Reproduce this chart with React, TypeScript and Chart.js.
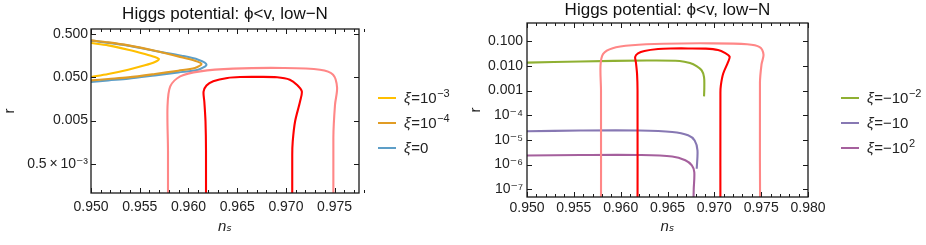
import React, { useEffect, useRef } from 'react';
import { Chart, registerables } from 'chart.js';

Chart.register(...registerables);

const FONT = "'Liberation Sans', Arial, 'DejaVu Sans', sans-serif";
const TITLE = 'Higgs potential: \u03d5<v, low\u2212N';

// Planck contours (n_s, r): inner (dark red) and outer (light red)
const innerX = [0.9618, 0.9618, 0.96175, 0.96163, 0.96155, 0.96185, 0.96254, 0.964, 0.9653, 0.9672, 0.9691, 0.9704, 0.97112, 0.97163, 0.97145, 0.97094, 0.9707, 0.97065, 0.97065];
const innerY = [1e-9, 1e-3, 4.7e-3, 0.0135, 0.023, 0.032, 0.04, 0.0478, 0.0502, 0.0505, 0.0495, 0.0436, 0.0334, 0.0235, 0.0137, 0.00475, 0.00165, 8e-4, 1e-9];
const outerX = [0.9579, 0.9579, 0.95785, 0.95813, 0.95915, 0.9612, 0.96459, 0.96971, 0.9735, 0.97484, 0.97525, 0.97504, 0.97487, 0.9749];
const outerY = [1e-9, 1e-3, 0.0104, 0.0305, 0.0519, 0.0676, 0.0781, 0.081, 0.074, 0.0568, 0.0285, 0.01156, 2.0e-3, 1e-9];

// left panel: xi = 1e-3, 1e-4, 0
const xiP3X = [0.95, 0.95177, 0.95382, 0.95553, 0.95656, 0.95697, 0.95656, 0.95553, 0.95382, 0.95177, 0.95];
const xiP3Y = [0.305, 0.269, 0.214, 0.17, 0.145, 0.1306, 0.1114, 0.0931, 0.0741, 0.0589, 0.0502];
const xiP4X = [0.95, 0.95177, 0.95382, 0.95656, 0.95895, 0.96066, 0.96134, 0.96066, 0.95895, 0.95656, 0.95382, 0.95177, 0.95];
const xiP4Y = [0.351, 0.315, 0.269, 0.203, 0.15, 0.1194, 0.1002, 0.081, 0.0702, 0.0589, 0.0492, 0.0452, 0.042];
const xi0X = [0.95, 0.95382, 0.95656, 0.95929, 0.961, 0.96185, 0.961, 0.95895, 0.95656, 0.95382, 0.95177, 0.95];
const xi0Y = [0.345, 0.265, 0.2, 0.1556, 0.126, 0.0966, 0.0741, 0.0641, 0.0547, 0.0459, 0.042, 0.0385];

// right panel: xi = -1e-2, -10, -1e2
const xiM2X = [0.95, 0.9557, 0.9628, 0.9663, 0.9674, 0.9681, 0.96865, 0.9689, 0.96893, 0.9689];
const xiM2Y = [0.0134, 0.015, 0.0163, 0.0157, 0.0129, 0.0097, 0.0065, 0.0035, 0.00137, 0.00058];
const xiM10X = [0.95, 0.9557, 0.962, 0.9655, 0.9672, 0.9679, 0.9682, 0.96812];
const xiM10Y = [2.25e-5, 2.4e-5, 2.4e-5, 2.1e-5, 1.55e-5, 9.5e-6, 3.8e-6, 6.8e-7];
const xiM100X = [0.95, 0.9557, 0.962, 0.9655, 0.9669, 0.9676, 0.96786, 0.9678, 0.96777];
const xiM100Y = [2.35e-6, 2.45e-6, 2.45e-6, 2.15e-6, 1.5e-6, 9.3e-7, 5e-7, 1e-7, 3e-8];

// ticks
const leftXTicks = [0.95, 0.955, 0.96, 0.965, 0.97, 0.975];
const rightXTicks = [0.95, 0.955, 0.96, 0.965, 0.97, 0.975, 0.98];
const leftYTicks = [0.5, 0.05, 0.005, 0.0005];
const leftYLabels = ['0.500', '0.050', '0.005', '0.5\u2009\u00d7\u200910\u207b\u00b3'];
const rightYTicks = [0.1, 0.01, 0.001, 1e-4, 1e-5, 1e-6, 1e-7];
const rightYLabels = ['0.100', '0.010', '0.001', '10\u207b\u2074', '10\u207b\u2075', '10\u207b\u2076', '10\u207b\u2077'];

// legends (xi symbol + rest, superscript)
const leftLegendBase = ['=10', '=10', '=0'];
const leftLegendSup = ['\u22123', '\u22124', ''];
const rightLegendBase = ['=\u221210', '=\u221210', '=\u221210'];
const rightLegendSup = ['\u22122', '', '2'];

const C_INNER = 'rgb(255,0,0)';
const C_OUTER = 'rgb(255,135,135)';
const C_YEL = '#FFBF00';
const C_ORA = '#E19C24';
const C_BLU = '#5D9EC7';
const C_GRN = '#8FB032';
const C_PUR = '#8778B3';
const C_MAG = '#A5609D';

function series(xs: number[], ys: number[], color: string, label: string, w = 2.1) {
  return {
    label,
    data: xs.map((x, i) => ({ x, y: ys[i] })),
    borderColor: color,
    backgroundColor: color,
    borderWidth: w,
    showLine: true,
    pointRadius: 0,
    pointHoverRadius: 0,
    tension: 0.3,
    fill: false,
  };
}

const framePlugin = {
  id: 'frameTicks',
  afterDatasetsDraw(chart: any, _args: any, opts: any) {
    const { ctx, chartArea: a } = chart;
    const xs = chart.scales.x;
    const ys = chart.scales.y;
    ctx.save();
    ctx.strokeStyle = '#1a1a1a';
    ctx.lineWidth = 1.3;
    ctx.strokeRect(a.left, a.top, a.right - a.left, a.bottom - a.top);
    ctx.lineWidth = 1;
    ctx.beginPath();
    const n = Math.round((opts.xMax - opts.xMin) / 0.001);
    for (let i = 0; i <= n; i++) {
      const v = opts.xMin + i * 0.001;
      const px = Math.round(xs.getPixelForValue(v)) + 0.5;
      const major = opts.xMajor.some((m: number) => Math.abs(m - v) < 1e-7);
      const L = major ? 5 : 3;
      ctx.moveTo(px, a.bottom);
      ctx.lineTo(px, a.bottom - L);
      ctx.moveTo(px, a.top);
      ctx.lineTo(px, a.top + L);
    }
    for (const v of opts.yMajor) {
      const py = Math.round(ys.getPixelForValue(v)) + 0.5;
      ctx.moveTo(a.left, py);
      ctx.lineTo(a.left + 5, py);
      ctx.moveTo(a.right, py);
      ctx.lineTo(a.right - 5, py);
    }
    ctx.stroke();

    // legend
    const lx = chart.width - 85;
    opts.legend.forEach((it: any, i: number) => {
      const y = 98 + 25 * i;
      ctx.strokeStyle = it.color;
      ctx.lineWidth = 2;
      ctx.beginPath();
      ctx.moveTo(lx, y);
      ctx.lineTo(lx + 18, y);
      ctx.stroke();
      ctx.fillStyle = '#222';
      ctx.textBaseline = 'middle';
      ctx.textAlign = 'left';
      let x = lx + 26;
      ctx.font = `italic 15px ${FONT}`;
      ctx.fillText('\u03be', x, y + 1);
      x += ctx.measureText('\u03be').width + 0.5;
      ctx.font = `15px ${FONT}`;
      ctx.fillText(it.base, x, y + 1);
      x += ctx.measureText(it.base).width + 0.5;
      if (it.sup) {
        ctx.font = `11px ${FONT}`;
        ctx.fillText(it.sup, x, y - 4);
      }
    });
    ctx.restore();
  },
};

function makeConfig(p: any) {
  return {
    type: 'scatter',
    data: { datasets: p.datasets },
    options: {
      responsive: false,
      animation: false,
      devicePixelRatio: 1,
      layout: { padding: { left: 0, right: p.padRight, top: 0, bottom: 0 } },
      plugins: {
        legend: { display: false },
        tooltip: { enabled: false },
        title: {
          display: true,
          text: TITLE,
          fullSize: false,
          color: '#111',
          font: { size: 17, family: FONT, weight: 'normal', lineHeight: 1.2 },
          padding: { top: p.titleTop, bottom: p.titleBottom },
        },
        frameTicks: {
          xMin: p.xMin,
          xMax: p.xMax,
          xMajor: p.xTicks,
          yMajor: p.yTicks,
          legend: p.legend,
        },
      },
      scales: {
        x: {
          type: 'linear',
          min: p.xMin,
          max: p.xMax,
          grid: { display: false, drawTicks: false },
          border: { display: false },
          afterBuildTicks: (s: any) => {
            s.ticks = p.xTicks.map((v: number) => ({ value: v }));
          },
          afterFit: (s: any) => {
            s.height = p.xHeight;
          },
          ticks: {
            autoSkip: false,
            maxRotation: 0,
            padding: p.xTickPad,
            color: '#222',
            font: { size: 14, family: FONT },
            callback: (v: number) => Number(v).toFixed(3),
          },
          title: {
            display: true,
            text: 'n\u209b',
            color: '#222',
            font: { size: 15, family: FONT, style: 'italic' },
            padding: { top: 0, bottom: 9 },
          },
        },
        y: {
          type: 'logarithmic',
          min: p.yMin,
          max: p.yMax,
          grid: { display: false, drawTicks: false },
          border: { display: false },
          afterBuildTicks: (s: any) => {
            s.ticks = p.yTicks.map((v: number) => ({ value: v }));
          },
          afterFit: (s: any) => {
            s.width = p.yWidth;
          },
          ticks: {
            autoSkip: false,
            padding: p.yTickPad,
            color: '#222',
            font: { size: 14, family: FONT },
            callback: (_v: number, i: number) => p.yLabels[i],
          },
          title: {
            display: true,
            text: 'r',
            color: '#222',
            font: { size: 15, family: FONT },
            padding: { top: p.yTitlePad, bottom: 0 },
          },
        },
      },
    },
    plugins: [framePlugin],
  };
}

export default function App() {
  const leftRef = useRef<HTMLCanvasElement | null>(null);
  const rightRef = useRef<HTMLCanvasElement | null>(null);

  useEffect(() => {
    Chart.defaults.font.family = FONT;
    const left = new Chart(leftRef.current as HTMLCanvasElement, makeConfig({
      datasets: [
        series(innerX, innerY, C_INNER, 'inner'),
        series(outerX, outerY, C_OUTER, 'outer'),
        series(xiP3X, xiP3Y, C_YEL, 'xi=1e-3'),
        series(xiP4X, xiP4Y, C_ORA, 'xi=1e-4'),
        series(xi0X, xi0Y, C_BLU, 'xi=0'),
      ],
      padRight: 104,
      titleTop: 4,
      titleBottom: 4.6,
      xMin: 0.95,
      xMax: 0.9775,
      xTicks: leftXTicks,
      xHeight: 52,
      xTickPad: 6,
      yMin: 1.07e-4,
      yMax: 0.64,
      yTicks: leftYTicks,
      yLabels: leftYLabels,
      yWidth: 91,
      yTickPad: 3,
      yTitlePad: 1,
      legend: [
        { color: C_YEL, base: leftLegendBase[0], sup: leftLegendSup[0] },
        { color: C_ORA, base: leftLegendBase[1], sup: leftLegendSup[1] },
        { color: C_BLU, base: leftLegendBase[2], sup: leftLegendSup[2] },
      ],
    }) as any);
    const right = new Chart(rightRef.current as HTMLCanvasElement, makeConfig({
      datasets: [
        series(innerX, innerY, C_INNER, 'inner'),
        series(outerX, outerY, C_OUTER, 'outer'),
        series(xiM2X, xiM2Y, C_GRN, 'xi=-1e-2'),
        series(xiM10X, xiM10Y, C_PUR, 'xi=-10'),
        series(xiM100X, xiM100Y, C_MAG, 'xi=-1e2'),
      ],
      padRight: 118,
      titleTop: 0.5,
      titleBottom: 2.1,
      xMin: 0.95,
      xMax: 0.98,
      xTicks: rightXTicks,
      xHeight: 48,
      xTickPad: 3,
      yMin: 4.9e-8,
      yMax: 0.54,
      yTicks: rightYTicks,
      yLabels: rightYLabels,
      yWidth: 64,
      yTickPad: 4,
      yTitlePad: 4,
      legend: [
        { color: C_GRN, base: rightLegendBase[0], sup: rightLegendSup[0] },
        { color: C_PUR, base: rightLegendBase[1], sup: rightLegendSup[1] },
        { color: C_MAG, base: rightLegendBase[2], sup: rightLegendSup[2] },
      ],
    }) as any);
    return () => {
      left.destroy();
      right.destroy();
    };
  }, []);

  return (
    <div style={{ position: 'fixed', left: 0, top: 0, width: 926, height: 245, background: '#fff' }}>
      <canvas ref={leftRef} width={463} height={245} style={{ position: 'absolute', left: 0, top: 0 }} />
      <canvas ref={rightRef} width={463} height={245} style={{ position: 'absolute', left: 463, top: 0 }} />
    </div>
  );
}
